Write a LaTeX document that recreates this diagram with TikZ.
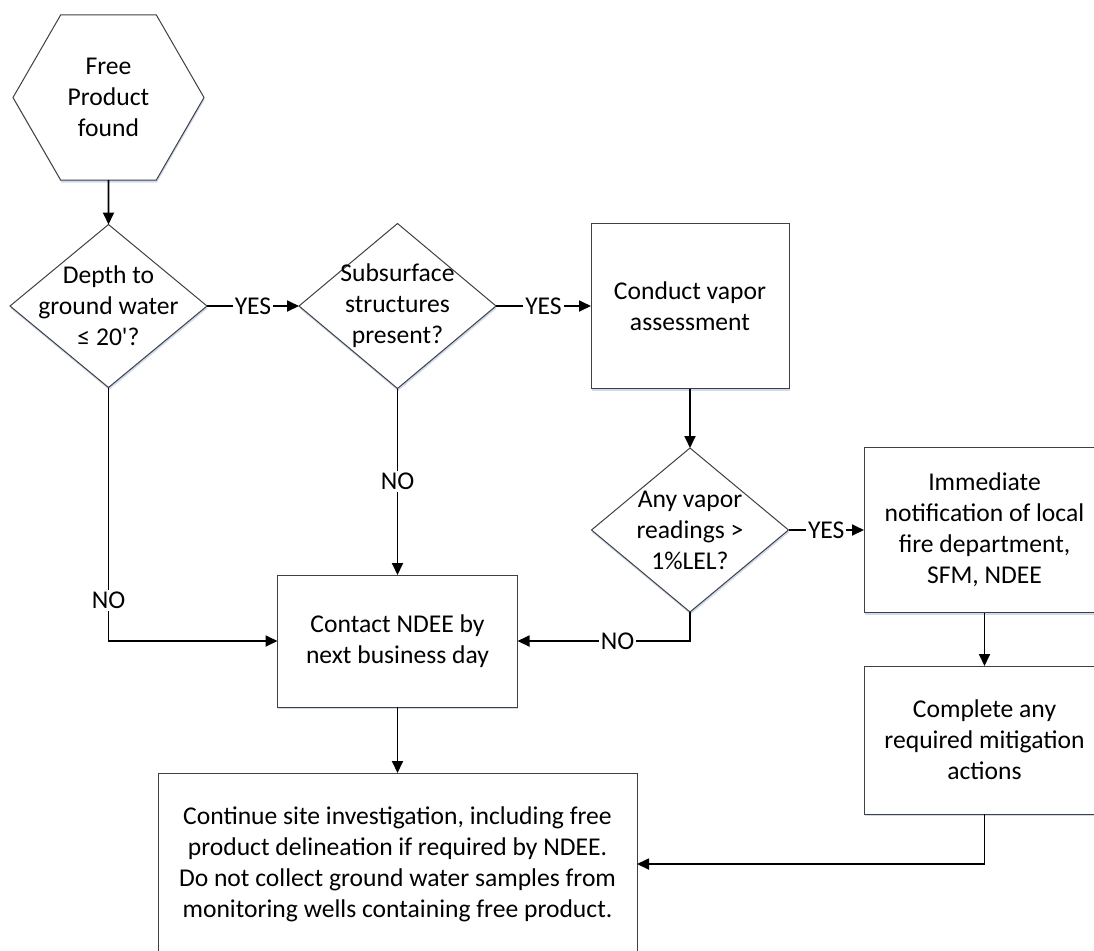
\documentclass[tikz,border=0pt]{standalone}
\usepackage{fontspec}
\newfontfamily\calfont{Carlito}
\usetikzlibrary{shapes.geometric,arrows.meta,shadows}
\begin{document}
\begin{tikzpicture}[x=0.5pt,y=-0.5pt,
  every node/.style={font=\calfont\fontsize{12.8}{15.5}\selectfont, align=center},
  shp/.style={draw=black!75, line width=0.5pt, fill=white, inner sep=0pt, outer sep=0pt,
    general shadow={fill={rgb,255:red,205;green,218;blue,240}, shadow xshift=0.3pt, shadow yshift=-1.2pt}},
  box/.style={shp, rectangle},
  dia/.style={shp, diamond, minimum width=98.5pt},
  arr/.style={line width=0.9pt, -{Triangle[length=6pt,width=5.5pt]}},
  lab/.style={fill=white, inner sep=1pt},
]
\useasboundingbox (0,0) rectangle (1094,950);
\clip (0,0) rectangle (1094,950);

\node[shp, regular polygon, regular polygon sides=6, minimum size=95.5pt] (hex) at (108.5,97.5) {Free\\Product\\found};

\node[dia, minimum height=81.5pt, label={center:{Depth to\\ground water\\≤ 20'?}}] (d1) at (108.5,306) {};
\node[dia, minimum height=82.5pt, label={center:{Subsurface\\structures\\present?}}] (d2) at (397.5,306) {};
\node[box, minimum width=99pt, minimum height=82.5pt] (vapor) at (690,306) {Conduct vapor\\assessment};
\node[dia, minimum height=82pt, label={center:{Any vapor\\readings >\\1\%LEL?}}] (d3) at (690,530) {};
\node[box, minimum width=120.5pt, minimum height=82.5pt] (notify) at (984.5,530) {Immediate\\notification of local\\fire department,\\SFM, NDEE};
\node[box, minimum width=120.5pt, minimum height=74pt] (mitig) at (984.5,740) {Complete any\\required mitigation\\actions};
\node[box, minimum width=120pt, minimum height=66pt] (contact) at (397.5,641) {Contact NDEE by\\next business day};
\node[box, minimum width=239.5pt, minimum height=91pt] (final) at (397.5,864) {Continue site investigation, including free\\product delineation if required by NDEE.\\Do not collect ground water samples from\\monitoring wells containing free product.};

\draw[arr] (hex) -- (d1);
\draw[arr] (d1) -- node[lab]{YES} (d2);
\draw[arr] (d2) -- node[lab]{YES} (vapor);
\draw[arr] (vapor) -- (d3);
\draw[arr] (d3) -- node[lab]{YES} (notify);
\draw[arr] (notify) -- (mitig);
\draw[arr] (d2) -- node[lab]{NO} (contact);
\draw[arr] (d1.south) |- node[lab,pos=0.42]{NO} (contact.west);
\draw[arr] (d3.south) |- node[lab,pos=0.71]{NO} (contact.east);
\draw[arr] (contact) -- (final);
\draw[arr] (mitig.south) |- (final.east);
\end{tikzpicture}
\end{document}
